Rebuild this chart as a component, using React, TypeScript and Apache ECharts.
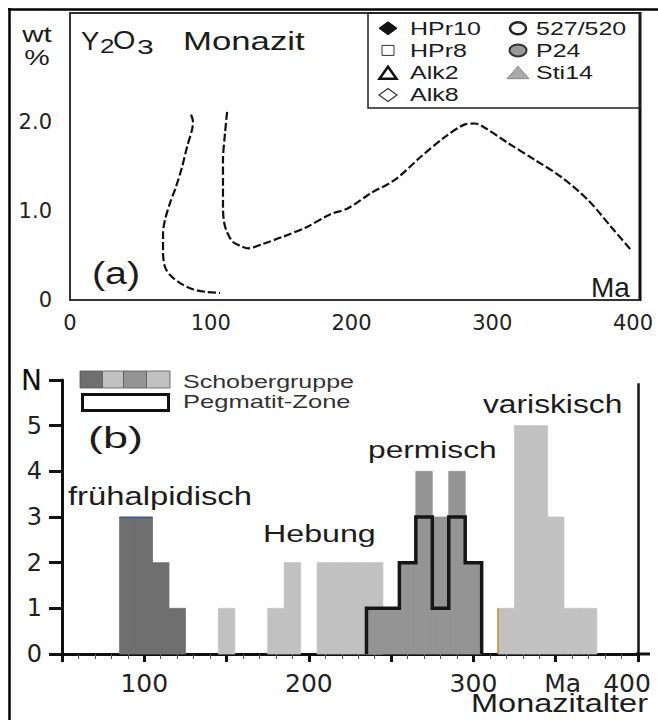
import React, { useEffect, useRef } from 'react';
import * as echarts from 'echarts';

// ---------- Panel (a): Y2O3 in monazite vs. age ----------
const wtTickValues = [0, 1, 2];
const wtTickLabels = ['0', '1.0', '2.0'];
const ageTickValuesA = [0, 100, 200, 300, 400];

const curveLeftAge = [86.0, 87.4, 86.7, 83.2, 79.6, 75.3, 71.1, 67.5, 66.1, 66.1, 67.5, 71.1, 78.2, 87.4, 97.3, 106.6];
const curveLeftWt = [2.08, 2.0, 1.91, 1.72, 1.49, 1.27, 1.09, 0.9, 0.75, 0.53, 0.37, 0.28, 0.19, 0.12, 0.09, 0.08];

const curveRightAge = [111.6, 110.2, 108.7, 108.7, 108.7, 109.4, 111.6, 115.8, 122.2, 126.5, 137.2, 151.4, 168.4, 184.8, 197.6, 213.9, 231, 249.5, 266.5, 280.7, 287.8, 295, 311.3, 330.5, 349, 368.2, 384.5, 398.7];
const curveRightWt = [2.11, 1.88, 1.57, 1.27, 1.04, 0.88, 0.76, 0.65, 0.6, 0.58, 0.63, 0.71, 0.82, 0.96, 1.03, 1.2, 1.35, 1.61, 1.83, 1.97, 1.98, 1.93, 1.76, 1.57, 1.38, 1.12, 0.82, 0.56];

const sampleLegendCol1 = ['HPr10', 'HPr8', 'Alk2', 'Alk8'];
const sampleLegendCol2 = ['527/520', 'P24', 'Sti14'];

// ---------- Panel (b): histogram of monazite ages ----------
const binWidth = 10;
const earlyAlpineAges = [90, 100, 110, 120];
const earlyAlpineCounts = [3, 3, 2, 1];
const upliftAges = [150, 180, 190, 210, 220, 230, 240];
const upliftCounts = [1, 1, 2, 2, 2, 2, 2];
const variscanAges = [320, 330, 340, 350, 360, 370];
const variscanCounts = [1, 5, 5, 3, 1, 1];
const permianAges = [240, 250, 260, 270, 280, 290, 300];
const permianCounts = [1, 1, 2, 4, 3, 4, 2];
const pegmatiteCounts = [1, 1, 2, 3, 1, 3, 2];

const histTickValues = [100, 200, 300, 350, 400];
const histTickLabels = ['100', '200', '300', 'Ma', '400'];
const countTickLabels = ['0', '1', '2', '3', '4', '5', 'N'];
const histMin = 50;
const histMax = 400;

const DARK = '#6f6f6f';
const LIGHT = '#c1c1c1';
const MEDIUM = '#949494';
const INK = '#1c1c1c';
const SANS = '"Liberation Sans", Arial, sans-serif';
const DV = '"DejaVu Sans", sans-serif';

const zip = (a: number[], b: number[]) => a.map((v, i) => [v, b[i]]);

function txt(text: string, x: number, y: number, fontSize: number, scaleX: number, fill = INK, align = 'left') {
  return {
    type: 'text',
    x,
    y,
    scaleX,
    silent: true,
    z: 20,
    style: {
      text,
      x: 0,
      y: 0,
      fontSize,
      fontFamily: SANS,
      fill,
      align,
      textAlign: align,
      verticalAlign: 'middle',
      textVerticalAlign: 'middle',
    },
  };
}

function barSeries(name: string, ages: number[], counts: number[], color: string, extra: any = {}) {
  return {
    type: 'custom',
    name,
    xAxisIndex: 1,
    yAxisIndex: 1,
    data: zip(ages, counts),
    encode: { x: 0, y: 1 },
    renderItem: (params: any, api: any) => {
      const x = api.value(0);
      const y = api.value(1);
      const p0 = api.coord([x - binWidth / 2, y]);
      const p1 = api.coord([x + binWidth / 2, 0]);
      return {
        type: 'rect',
        shape: { x: p0[0], y: p0[1], width: p1[0] - p0[0], height: p1[1] - p0[1] },
        style: { fill: color, stroke: color, lineWidth: 0.8 },
      };
    },
    ...extra,
  };
}

function legendSymbol(name: string, cx: number, cy: number): any {
  switch (name) {
    case 'HPr10':
      return { type: 'polygon', shape: { points: [[cx - 9, cy], [cx, cy - 6.5], [cx + 9, cy], [cx, cy + 6.5]] }, style: { fill: '#111', stroke: '#111', lineWidth: 1 } };
    case 'HPr8':
      return { type: 'rect', shape: { x: cx - 6, y: cy - 5, width: 12, height: 10 }, style: { fill: '#fff', stroke: '#333', lineWidth: 1 } };
    case 'Alk2':
      return { type: 'polygon', shape: { points: [[cx - 8.5, cy + 6], [cx, cy - 6], [cx + 8.5, cy + 6]] }, style: { fill: '#fff', stroke: '#111', lineWidth: 2.5 } };
    case 'Alk8':
      return { type: 'polygon', shape: { points: [[cx - 9, cy], [cx, cy - 6.5], [cx + 9, cy], [cx, cy + 6.5]] }, style: { fill: '#fff', stroke: '#333', lineWidth: 1.2 } };
    case '527/520':
      return { type: 'ellipse', shape: { cx, cy, rx: 8, ry: 6 }, style: { fill: '#fff', stroke: '#222', lineWidth: 2.5 } };
    case 'P24':
      return { type: 'ellipse', shape: { cx, cy, rx: 8.5, ry: 6 }, style: { fill: '#9a9a9a', stroke: '#333', lineWidth: 2 } };
    default:
      return { type: 'polygon', shape: { points: [[cx - 11, cy + 6], [cx, cy - 6.5], [cx + 11, cy + 6]] }, style: { fill: '#a9a9a9', stroke: '#8a8a8a', lineWidth: 1 } };
  }
}

export default function App() {
  const ref = useRef<HTMLDivElement>(null);

  useEffect(() => {
    if (!ref.current) return;
    const chart = echarts.init(ref.current, undefined, { renderer: 'svg' });

    const pegOutline: number[][] = [[permianAges[0] - binWidth / 2, 0]];
    permianAges.forEach((a, i) => {
      pegOutline.push([a - binWidth / 2, pegmatiteCounts[i]]);
      pegOutline.push([a + binWidth / 2, pegmatiteCounts[i]]);
    });
    pegOutline.push([permianAges[permianAges.length - 1] + binWidth / 2, 0]);

    const legendRows = [28.3, 50.4, 72.7, 95];
    const legendGraphics: any[] = [];
    sampleLegendCol1.forEach((n, i) => {
      legendGraphics.push({ ...legendSymbol(n, 388, legendRows[i]), silent: true, z: 20 });
      legendGraphics.push(txt(n, 410, legendRows[i], 18.5, 1.35));
    });
    sampleLegendCol2.forEach((n, i) => {
      legendGraphics.push({ ...legendSymbol(n, 518, legendRows[i]), silent: true, z: 20 });
      legendGraphics.push(txt(n, 536, legendRows[i], 18.5, 1.35));
    });

    const firstVar = variscanAges[0] - binWidth / 2;

    const option: any = {
      animation: false,
      backgroundColor: '#fff',
      grid: [
        { left: 70, top: 13, width: 570, height: 287, show: true, borderColor: '#333', borderWidth: 2, backgroundColor: 'transparent', containLabel: false, outerBoundsMode: 'none' },
        { left: 62, top: 380, width: 576, height: 274, show: false, containLabel: false, outerBoundsMode: 'none' },
      ],
      xAxis: [
        {
          type: 'value', gridIndex: 0, min: 0, max: 405, interval: 100,
          axisLine: { show: false }, axisTick: { show: false }, splitLine: { show: false },
          axisLabel: {
            margin: 12, fontSize: 21, fontFamily: DV, color: '#222',
            formatter: (v: number) => (ageTickValuesA.includes(v) ? String(v) : ''),
          },
        },
        {
          type: 'value', gridIndex: 1, min: histMin, max: histMax, interval: 50,
          axisLine: { show: true, lineStyle: { color: '#111', width: 3 } },
          axisTick: { show: true, length: 8, inside: false, lineStyle: { color: '#111', width: 3 } },
          minorTick: { show: true, splitNumber: 5, length: 5, lineStyle: { color: '#555', width: 1 } },
          splitLine: { show: false }, minorSplitLine: { show: false },
          axisLabel: {
            margin: 17, fontSize: 25, fontFamily: DV, color: '#222',
            formatter: (v: number) => {
              const i = histTickValues.indexOf(v);
              if (i < 0) return '';
              const lab = histTickLabels[i];
              if (lab === 'Ma') return '{m|Ma}';
              if (v === histMax) return '{r|' + lab + '}';
              return lab;
            },
            rich: {
              m: { fontSize: 25, fontFamily: DV, color: '#222', padding: [0, 0, 0, 14] },
              r: { fontSize: 25, fontFamily: DV, color: '#222', padding: [0, 22, 0, 0] },
            },
          },
        },
      ],
      yAxis: [
        {
          type: 'value', gridIndex: 0, min: 0, max: 3.22, interval: 1,
          axisLine: { show: false }, axisTick: { show: false }, splitLine: { show: false },
          axisLabel: {
            margin: 18, fontSize: 21, fontFamily: DV, color: '#222',
            formatter: (v: number) => {
              const i = wtTickValues.indexOf(v);
              return i < 0 ? '' : wtTickLabels[i];
            },
          },
        },
        {
          type: 'value', gridIndex: 1, min: 0, max: 6, interval: 1,
          axisLine: { show: true, lineStyle: { color: '#111', width: 3 } },
          axisTick: { show: true, length: 13, inside: false, lineStyle: { color: '#111', width: 3 } },
          splitLine: { show: false },
          axisLabel: {
            margin: 20, fontSize: 24, fontFamily: DV, color: '#222',
            formatter: (v: number) => {
              const lab = countTickLabels[v];
              if (lab === undefined) return '';
              return lab === 'N' ? '{n|N}' : lab;
            },
            rich: { n: { fontSize: 28, fontFamily: DV, color: '#111' } },
          },
        },
      ],
      series: [
        {
          type: 'line', name: 'left', xAxisIndex: 0, yAxisIndex: 0,
          data: zip(curveLeftAge, curveLeftWt), showSymbol: false, smooth: 0.3,
          lineStyle: { color: '#111', width: 2.2, type: [8, 3] },
        },
        {
          type: 'line', name: 'right', xAxisIndex: 0, yAxisIndex: 0,
          data: zip(curveRightAge, curveRightWt), showSymbol: false, smooth: 0.3,
          lineStyle: { color: '#111', width: 2.2, type: [8, 3] },
        },
        barSeries('Hebung', upliftAges, upliftCounts, LIGHT),
        barSeries('variskisch', variscanAges, variscanCounts, LIGHT, {
          markLine: {
            silent: true, symbol: 'none', label: { show: false },
            data: [
              [{ coord: [histMax, 0], lineStyle: { color: '#111', width: 2.5, type: 'solid' } }, { coord: [histMax, 5.93] }],
              [{ coord: [firstVar, 0], lineStyle: { color: '#c98a2b', width: 1.5, type: 'solid' } }, { coord: [firstVar, variscanCounts[0]] }],
            ],
          },
        }),
        barSeries('permisch', permianAges, permianCounts, MEDIUM),
        barSeries('frühalpidisch', earlyAlpineAges, earlyAlpineCounts, DARK, {
          markLine: {
            silent: true, symbol: 'none', label: { show: false },
            data: [
              [
                { coord: [earlyAlpineAges[0] - binWidth / 2, earlyAlpineCounts[0]], lineStyle: { color: '#3d5a99', width: 1.3, type: 'solid' } },
                { coord: [earlyAlpineAges[1] + binWidth / 2, earlyAlpineCounts[1]] },
              ],
            ],
          },
        }),
        {
          type: 'line', name: 'Pegmatit-Zone', xAxisIndex: 1, yAxisIndex: 1,
          data: pegOutline, showSymbol: false, z: 5,
          lineStyle: { color: '#161616', width: 3.5, join: 'miter' },
        },
      ],
      graphic: [
        // outer frame
        { type: 'line', silent: true, shape: { x1: 8, y1: 9.5, x2: 658, y2: 9.5 }, style: { stroke: '#000', lineWidth: 2.5 } },
        { type: 'line', silent: true, shape: { x1: 9.5, y1: 8, x2: 9.5, y2: 720 }, style: { stroke: '#000', lineWidth: 2.5 } },
        // panel (a) right border (heavier)
        { type: 'line', silent: true, shape: { x1: 640, y1: 12, x2: 640, y2: 301 }, style: { stroke: '#111', lineWidth: 3 } },
        // legend box (a)
        { type: 'rect', silent: true, shape: { x: 368, y: 13, width: 272, height: 95 }, style: { fill: 'none', stroke: '#222', lineWidth: 1.5 } },
        ...legendGraphics,
        // panel (a) texts
        txt('Y', 81, 41, 25, 1.1),
        txt('2', 100, 46.5, 20, 1.3),
        txt('O', 113, 41, 25, 1.15),
        txt('3', 137, 46.5, 20, 1.5),
        txt('Monazit', 183, 41, 25, 1.39),
        txt('wt', 37, 34, 22, 1.35, INK, 'center'),
        txt('%', 37, 57, 22, 1.3, INK, 'center'),
        txt('(a)', 92, 274, 31, 1.27),
        txt('Ma', 591, 287, 28, 1.0),
        // panel (b) x axis extension
        { type: 'line', silent: true, shape: { x1: 636, y1: 654, x2: 650, y2: 654 }, style: { stroke: '#111', lineWidth: 3 } },
        // panel (b) legend
        { type: 'rect', silent: true, shape: { x: 80, y: 371, width: 22.5, height: 17 }, style: { fill: DARK, stroke: '#555', lineWidth: 0.8 } },
        { type: 'rect', silent: true, shape: { x: 102.5, y: 371, width: 21, height: 17 }, style: { fill: LIGHT, stroke: '#555', lineWidth: 0.8 } },
        { type: 'rect', silent: true, shape: { x: 123.5, y: 371, width: 23, height: 17 }, style: { fill: MEDIUM, stroke: '#555', lineWidth: 0.8 } },
        { type: 'rect', silent: true, shape: { x: 146.5, y: 371, width: 23.5, height: 17 }, style: { fill: LIGHT, stroke: '#555', lineWidth: 0.8 } },
        { type: 'rect', silent: true, shape: { x: 82.5, y: 394.5, width: 86, height: 16 }, style: { fill: '#fff', stroke: '#111', lineWidth: 3 } },
        txt('Schobergruppe', 183, 381.5, 18, 1.39, '#333'),
        txt('Pegmatit-Zone', 183, 401.5, 18, 1.42, '#333'),
        txt('(b)', 88, 437.5, 30, 1.5),
        txt('frühalpidisch', 68, 496, 25.6, 1.28),
        txt('Hebung', 263, 534, 23.5, 1.37),
        txt('permisch', 368, 450, 23.5, 1.35),
        txt('variskisch', 483, 404, 25, 1.27),
        txt('Monazitalter', 471, 703, 26, 1.25),
      ],
    };

    chart.setOption(option);
    return () => chart.dispose();
  }, []);

  return (
    <div
      ref={ref}
      style={{ position: 'fixed', left: 0, top: 0, width: 658, height: 720, background: '#fff' }}
    />
  );
}
